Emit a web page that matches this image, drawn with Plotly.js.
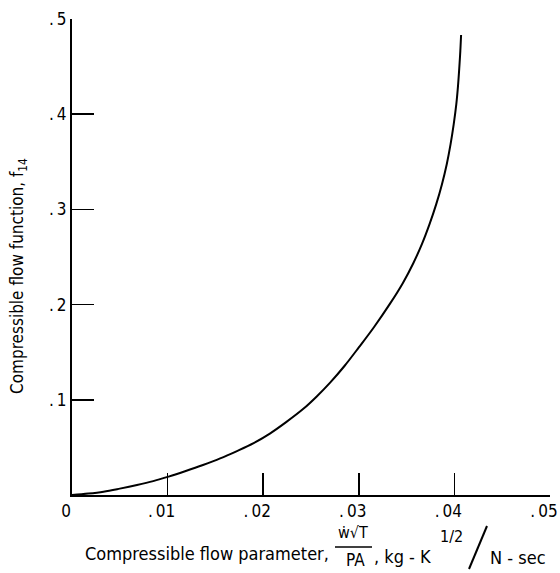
<!DOCTYPE html>
<html>
<head>
<meta charset="utf-8">
<script src="https://cdn.plot.ly/plotly-3.0.1.min.js"></script>
<style>
html,body{margin:0;padding:0;background:#fff;}
#chart{width:560px;height:573px;}
</style>
</head>
<body>
<div id="chart"></div>
<script>
// Data
const flowParameter = [0, 0.0017, 0.0033, 0.0050, 0.0068, 0.0085, 0.0101, 0.0119, 0.0137, 0.0155, 0.0172, 0.0190, 0.0207, 0.0224, 0.0242, 0.0256, 0.0270, 0.0285, 0.0300, 0.0316, 0.0333, 0.0346, 0.0357, 0.0366, 0.0374, 0.0381, 0.0387, 0.0392, 0.0396, 0.03993, 0.0402, 0.04038, 0.04052, 0.04062, 0.0407];
const flowFunction  = [0, 0.0015, 0.0035, 0.0067, 0.0105, 0.0146, 0.0193, 0.0252, 0.0315, 0.0384, 0.0459, 0.0545, 0.0645, 0.0765, 0.0905, 0.1035, 0.1180, 0.1355, 0.1550, 0.1765, 0.2015, 0.2225, 0.2435, 0.2635, 0.2845, 0.3055, 0.3265, 0.3475, 0.3685, 0.3895, 0.4105, 0.4300, 0.4500, 0.4665, 0.4832];

const xTickVals = [0, 0.01, 0.02, 0.03, 0.04, 0.05];
const xTickText = ['0', '.\u200901', '.\u200902', '.\u200903', '.\u200904', '.\u200905'];
const yTickVals = [0.1, 0.2, 0.3, 0.4, 0.5];
const yTickText = ['.\u20091', '.\u20092', '.\u20093', '.\u20094', '.\u20095'];

const FONT = '"DejaVu Sans Condensed", "Liberation Sans Narrow", "DejaVu Sans", sans-serif';

// plot area geometry (pixels)
const L = 72, T = 19, W = 478, H = 476;
const px = x => (x - L) / W;
const py = y => (T + H - y) / H;

const trace = {
  x: flowParameter, y: flowFunction,
  type: 'scatter', mode: 'lines',
  line: {color: '#000', width: 2, shape: 'spline', smoothing: 1},
  hoverinfo: 'skip', showlegend: false
};

const ann = (x, y, text, size, extra) => Object.assign({
  xref: 'paper', yref: 'paper', x: px(x), y: py(y), text: text,
  showarrow: false, font: {family: FONT, size: size, color: '#000'},
  xanchor: 'left', yanchor: 'middle'
}, extra || {});

const layout = {
  width: 560, height: 573,
  margin: {l: L, r: 560 - L - W, t: T, b: 573 - T - H},
  paper_bgcolor: '#fff', plot_bgcolor: '#fff',
  showlegend: false,
  font: {family: FONT, size: 17, color: '#000'},
  xaxis: {
    range: [0, 0.05], tickvals: xTickVals, ticktext: xTickText,
    ticks: 'inside', ticklen: 22, tickwidth: 1.5, tickcolor: '#000',
    ticklabeloverflow: 'allow', ticklabelshift: -6,
    showline: true, linecolor: '#000', linewidth: 2,
    showgrid: false, zeroline: false, fixedrange: true,
    tickfont: {family: FONT, size: 17, color: '#000'}
  },
  yaxis: {
    range: [0, 0.5], tickvals: yTickVals, ticktext: yTickText,
    ticks: 'inside', ticklen: 22, tickwidth: 1.5, tickcolor: '#000',
    ticklabeloverflow: 'allow',
    showline: true, linecolor: '#000', linewidth: 2,
    showgrid: false, zeroline: false, fixedrange: true,
    tickfont: {family: FONT, size: 17, color: '#000'}
  },
  annotations: [
    ann(18, 276, 'Compressible flow function, f<sub>14</sub>', 17, {textangle: -90, xanchor: 'center'}),
    ann(83, 553, 'Compressible flow parameter,', 18),
    ann(353, 532, 'ẇ√T', 16, {xanchor: 'center'}),
    ann(355, 560, 'PA', 17, {xanchor: 'center'}),
    ann(372, 556, ', kg - K', 18),
    ann(438, 536, '1/2', 16),
    ann(488, 557, 'N - sec', 18)
  ],
  shapes: [
    {type: 'line', xref: 'paper', yref: 'paper', x0: px(335), x1: px(372), y0: py(547), y1: py(547), line: {color: '#000', width: 1.5}},
    {type: 'line', xref: 'paper', yref: 'paper', x0: px(469), x1: px(487), y0: py(569), y1: py(526), line: {color: '#000', width: 2}}
  ]
};

Plotly.newPlot('chart', [trace], layout, {staticPlot: true, displayModeBar: false});
</script>
</body>
</html>
